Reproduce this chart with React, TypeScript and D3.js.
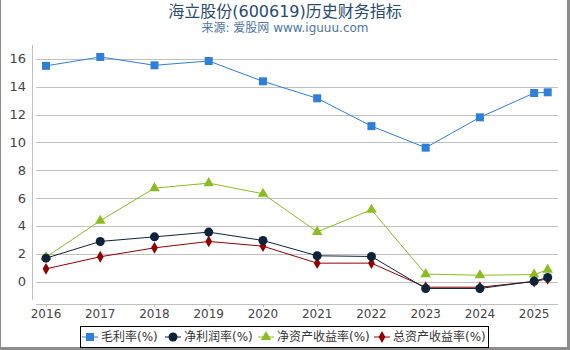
import React, { useEffect, useRef } from 'react'
import * as d3 from 'd3'

// 海立股份 historical financial indicators
const years = [2016, 2017, 2018, 2019, 2020, 2021, 2022, 2023, 2024, 2025, 2025.25]
const grossMargin = [15.5, 16.14, 15.54, 15.85, 14.39, 13.17, 11.17, 9.62, 11.8, 13.55, 13.6]
const netMargin = [1.68, 2.88, 3.21, 3.55, 2.95, 1.85, 1.8, -0.5, -0.5, 0.02, 0.29]
const roe = [1.75, 4.37, 6.71, 7.07, 6.31, 3.57, 5.16, 0.53, 0.45, 0.5, 0.84]
const roa = [0.91, 1.78, 2.42, 2.88, 2.54, 1.32, 1.32, -0.41, -0.41, 0.0, 0.19]
const yTicks = [0, 2, 4, 6, 8, 10, 12, 14, 16]
const xTicks = [2016, 2017, 2018, 2019, 2020, 2021, 2022, 2023, 2024, 2025]

const series = [
  { name: '毛利率(%)', values: grossMargin, color: '#2f7ed8', symbol: 'square' },
  { name: '净利润率(%)', values: netMargin, color: '#0d233a', symbol: 'circle' },
  { name: '净资产收益率(%)', values: roe, color: '#8bbc21', symbol: 'triangle' },
  { name: '总资产收益率(%)', values: roa, color: '#910000', symbol: 'diamond' }
]
// drawing order (navy on top)
const drawOrder = [0, 2, 3, 1]
// legend item offsets inside the box
const legendOffsets = [2, 85, 178, 294]

const FONT = '"DejaVu Sans", "Noto Sans CJK SC", sans-serif'

const symbolPath = (type: string) => {
  const map: Record<string, any> = {
    square: d3.symbol(d3.symbolSquare, 64),
    circle: d3.symbol(d3.symbolCircle, 64),
    triangle: d3.symbol(d3.symbolTriangle, 48),
    diamond: d3.symbol(d3.symbolDiamond, 40)
  }
  return map[type]()
}

const App = () => {
  const svgRef = useRef<SVGSVGElement>(null)
  const width = 570
  const height = 350

  useEffect(() => {
    const svg = d3.select(svgRef.current)
    svg.selectAll('*').remove()

    const x = d3.scaleLinear().domain([2015.76, 2025.44]).range([33, 558])
    const y = d3.scaleLinear().domain([-1.3, 17]).range([299.6, 45])

    // frame
    svg.append('rect').attr('x', 0).attr('y', 0).attr('width', 1).attr('height', height).attr('fill', '#8c8c8c')
    svg.append('rect').attr('x', 567).attr('y', 0).attr('width', 3).attr('height', height).attr('fill', '#8c8c8c')
    svg.append('rect').attr('x', 0).attr('y', 347).attr('width', width).attr('height', 3).attr('fill', '#8c8c8c')

    // titles
    svg.append('text')
      .attr('x', 285).attr('y', 17)
      .attr('text-anchor', 'middle')
      .style('font-family', FONT).style('font-size', '16px')
      .style('fill', '#274b6d')
      .text('海立股份(600619)历史财务指标')
    svg.append('text')
      .attr('x', 285).attr('y', 32)
      .attr('text-anchor', 'middle')
      .style('font-family', FONT).style('font-size', '12px')
      .style('fill', '#4d759e')
      .text('来源: 爱股网 www.iguuu.com')

    // grid
    const grid = svg.append('g')
    yTicks.forEach(t => {
      grid.append('line')
        .attr('x1', 36).attr('x2', 558)
        .attr('y1', Math.round(y(t)) + 0.5).attr('y2', Math.round(y(t)) + 0.5)
        .style('stroke', '#c0c0c0').style('stroke-width', 1)
      grid.append('text')
        .attr('x', 26).attr('y', y(t)).attr('dy', '0.35em')
        .attr('text-anchor', 'end')
        .style('font-family', FONT).style('font-size', '13px')
        .style('fill', '#444')
        .text(t)
    })

    // axes
    svg.append('line')
      .attr('x1', 32.5).attr('x2', 32.5).attr('y1', 45).attr('y2', 300)
      .style('stroke', '#c0c0c0')
    svg.append('line')
      .attr('x1', 36).attr('x2', 558).attr('y1', 304.5).attr('y2', 304.5)
      .style('stroke', '#c0c0c0')
    xTicks.forEach(t => {
      svg.append('line')
        .attr('x1', Math.round(x(t)) + 0.5).attr('x2', Math.round(x(t)) + 0.5)
        .attr('y1', 304).attr('y2', 307)
        .style('stroke', '#c0c0c0')
      svg.append('text')
        .attr('x', x(t)).attr('y', 314).attr('dy', '0.35em')
        .attr('text-anchor', 'middle')
        .style('font-family', FONT).style('font-size', '12px')
        .style('fill', '#444')
        .text(t)
    })

    // series
    const line = d3.line<number>()
      .x((d, i) => x(years[i]))
      .y(d => y(d))

    drawOrder.forEach(si => {
      const s = series[si]
      const g = svg.append('g')
      g.append('path')
        .datum(s.values)
        .attr('d', line)
        .style('fill', 'none')
        .style('stroke', s.color)
        .style('stroke-width', 1)
      g.selectAll('path.pt')
        .data(s.values)
        .enter()
        .append('path')
        .attr('class', 'pt')
        .attr('d', symbolPath(s.symbol))
        .attr('transform', (d, i) => `translate(${x(years[i])},${y(d)})`)
        .style('fill', s.color)
    })

    // legend
    const bx = 80
    const bw = 408
    const legend = svg.append('g')
    legend.append('rect')
      .attr('x', bx + 0.5).attr('y', 326.5).attr('width', bw).attr('height', 21)
      .style('fill', '#fff').style('stroke', '#000').style('stroke-width', 1)
    series.forEach((s, i) => {
      const it = legend.append('g').attr('transform', `translate(${bx + legendOffsets[i]},337)`)
      it.append('line').attr('x1', 0).attr('x2', 16).style('stroke', s.color).style('stroke-width', 1)
      it.append('path').attr('d', symbolPath(s.symbol)).attr('transform', 'translate(8,0)').style('fill', s.color)
      it.append('text')
        .attr('x', 19).attr('dy', '0.35em')
        .style('font-family', FONT).style('font-size', '12px')
        .style('fill', '#333')
        .text(s.name)
    })
  }, [])

  return (
    <svg
      ref={svgRef}
      width={width}
      height={height}
      style={{ position: 'absolute', left: 0, top: 0, background: '#fff' }}
    />
  )
}

export default App
